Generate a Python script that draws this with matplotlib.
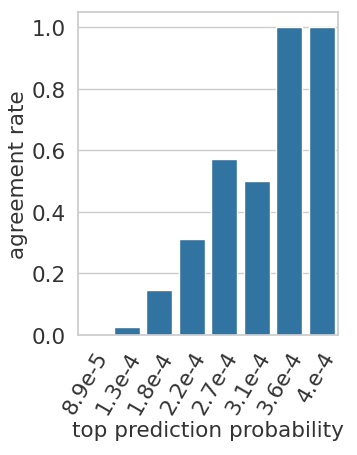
import matplotlib
matplotlib.use("Agg")
import matplotlib.pyplot as plt
import seaborn as sns

categories = ["8.9e-5", "1.3e-4", "1.8e-4", "2.2e-4", "2.7e-4", "3.1e-4", "3.6e-4", "4.e-4"]
values = [0.0, 0.025, 0.147, 0.3125, 0.571, 0.5, 1.0, 1.0]

sns.set_theme(style="whitegrid")
plt.rcParams['font.family'] = ['DejaVu Sans']

fig = plt.figure(figsize=(3.57, 4.56), dpi=100)
ax = fig.add_axes([78/357, 1 - 336/456, (338-78)/357, (336-13)/456])
sns.barplot(x=categories, y=values, color="#1f77b4", saturation=0.75, ax=ax)
ax.set_ylim(0, 1.05)
ax.set_yticks([0, 0.2, 0.4, 0.6, 0.8, 1.0])
ax.tick_params(axis='both', labelsize=15.5, colors="#333333", pad=3)
ax.set_xlabel("top prediction probability", fontsize=15.5, color="#333333", labelpad=2)
ax.set_ylabel("agreement rate", fontsize=15.5, color="#333333", labelpad=2)
for lab in ax.get_xticklabels():
    lab.set_rotation(60)
    lab.set_ha("right")
    lab.set_rotation_mode("anchor")
fig.savefig("out.png", dpi=100)
